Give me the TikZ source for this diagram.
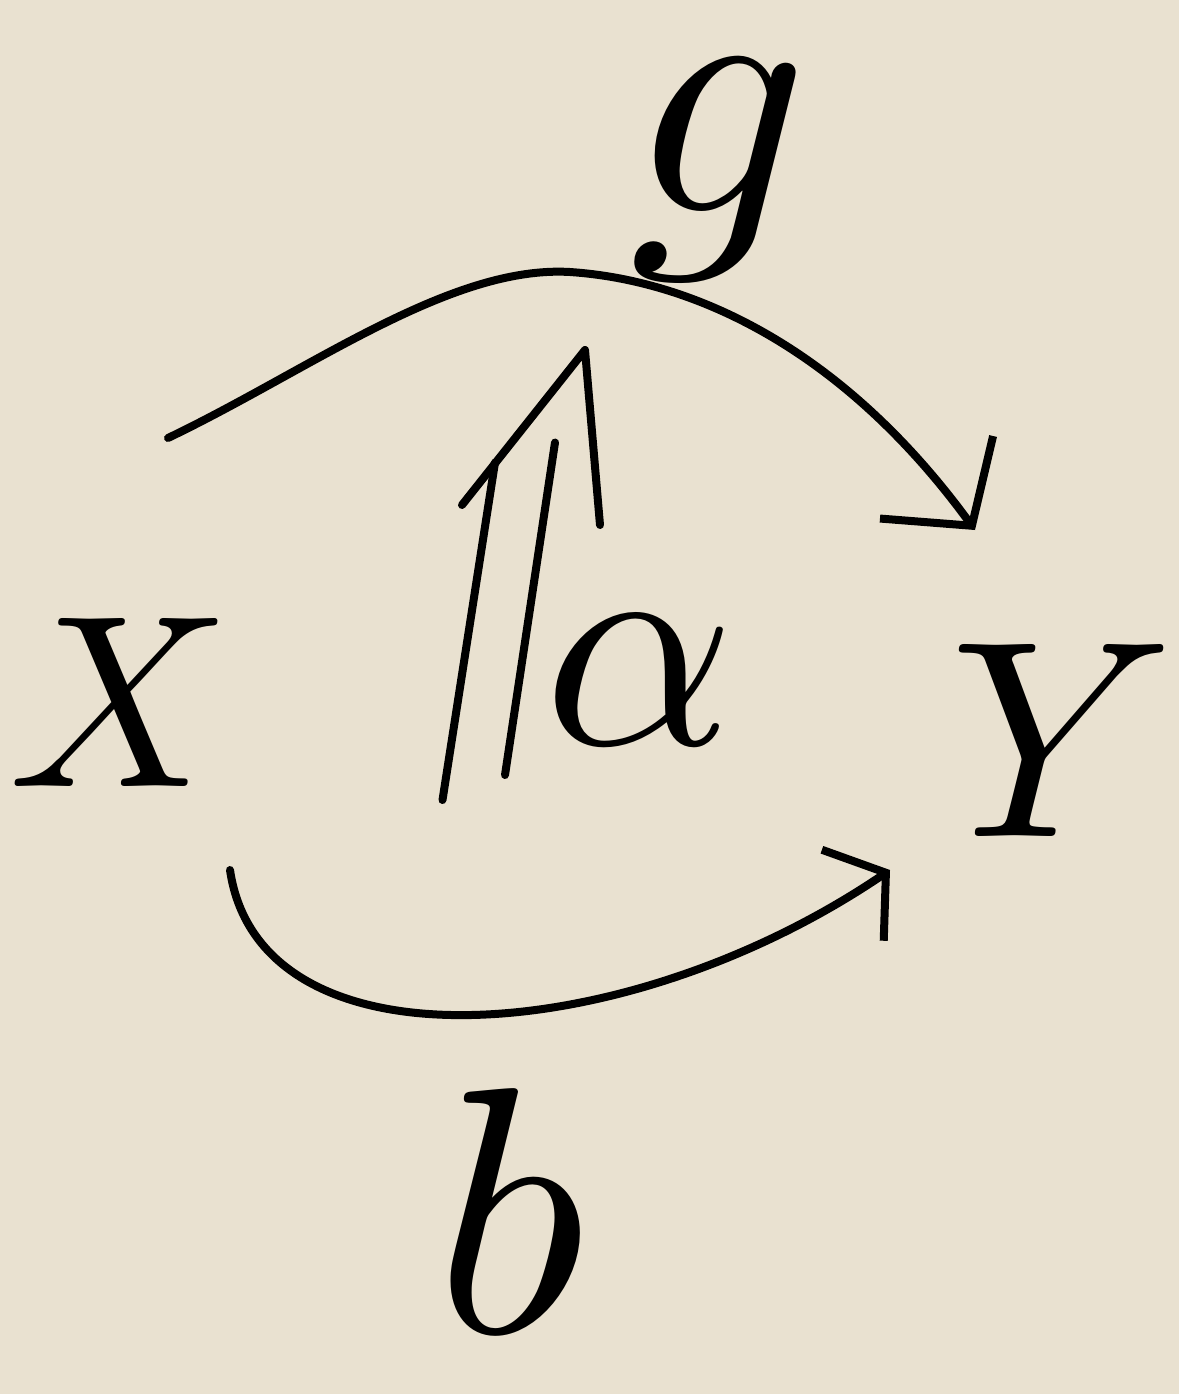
\documentclass[tikz,border=0pt]{standalone}
\usetikzlibrary{arrows.meta}
\definecolor{paper}{RGB}{233,225,208}
\begin{document}
\begin{tikzpicture}[
  stroke/.style={line width=0.16cm, line cap=round, line join=round},
  onearrow/.style={stroke, -{Straight Barb[length=1.2cm,width=2.8cm,line width=0.16cm]}},
  smallarrow/.style={stroke, -{Straight Barb[length=0.8cm,width=2.2cm,line width=0.16cm]}},
  lab/.style={inner sep=0pt}
]
\fill[paper] (0,0) rectangle (23.58,-27.88);
\useasboundingbox (0,0) rectangle (23.58,-27.88);

\node[lab, scale=14] (X) at (2.4,-14.05) {$X$};
\node[lab, scale=16] (Y) at (21.25,-14.8) {$Y$};
\node[lab, scale=17] (alpha) at (12.8,-13.6) {$\alpha$};
\node[lab, scale=20] (g) at (14.4,-3.4) {$g$};
\node[lab, scale=20] (b) at (10.2,-24.2) {$b$};

% top arrow
\coordinate (t1) at (3.36,-8.76);
\coordinate (tm) at (11.4,-5.44);
\coordinate (t2) at (19.5,-10.6);
% bottom arrow
\coordinate (b1) at (4.6,-17.4);
\coordinate (b2) at (17.8,-17.4);
% double arrow
\coordinate (l1) at (8.85,-16.0);
\coordinate (l2) at (9.9,-9.25);
\coordinate (r1) at (10.1,-15.5);
\coordinate (r2) at (11.1,-8.85);
\coordinate (tip) at (11.7,-7.0);
\coordinate (c1) at (9.24,-10.1);
\coordinate (c2) at (12.0,-10.5);

\draw[onearrow] (t1) .. controls (6.2,-7.4) and (9,-5.3) .. (tm)
   .. controls (13.8,-5.6) and (16.8,-6.9) .. (t2);
\draw[smallarrow] (b1) .. controls (5.2,-21.5) and (12.5,-21.0) .. (b2);
\draw[stroke] (l1) -- (l2);
\draw[stroke] (r1) -- (r2);
\draw[stroke] (c1) -- (tip) -- (c2);
\end{tikzpicture}
\end{document}
